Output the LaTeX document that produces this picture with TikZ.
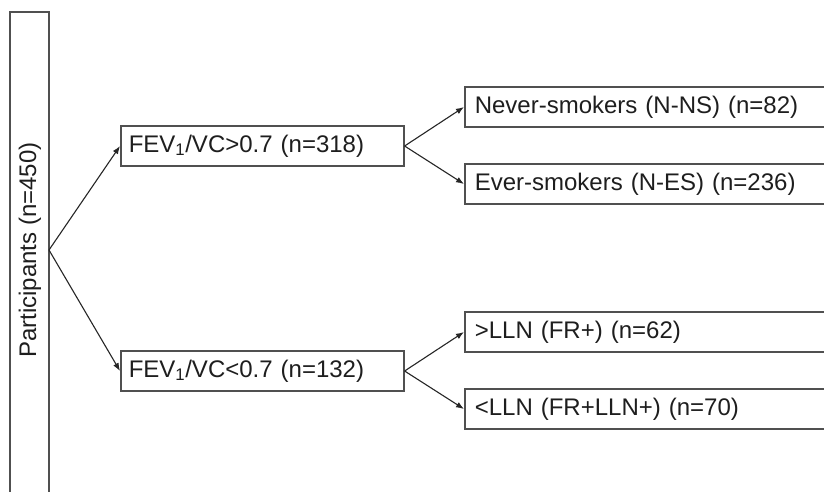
\documentclass[tikz,border=0pt]{standalone}
\usepackage{fontspec}
\setmainfont{Liberation Sans}
\usetikzlibrary{arrows.meta,calc}
\definecolor{boxline}{HTML}{505050}
\definecolor{txt}{HTML}{1E1E1E}
\begin{document}
\begin{tikzpicture}[x=1pt,y=-1pt,
  box/.style={draw=boxline, line width=1.6pt, fill=white, text=txt, inner sep=0pt,
    font=\fontsize{24}{26}\selectfont, minimum height=40pt, anchor=west},
  conn/.style={draw=black!85, line width=1.1pt, -{Latex[length=8pt,width=6pt]}}]
\useasboundingbox (0,0) rectangle (824,491);
\clip (0,0) rectangle (824,491);
\fill[white] (0,0) rectangle (824,491);
% left box
\node[box, anchor=north, minimum width=39pt, minimum height=520pt] (L) at (29.5,11) {};
\node[text=txt, rotate=90, font=\fontsize{24}{26}\selectfont] (Lt) at (30,250) {Participants (n=450)};
\coordinate (apex) at (49,250);
% middle boxes
\node[box, minimum width=283pt, text width=283pt, align=left] (A) at (120,146) {\hspace*{8pt}FEV\textsubscript{1}/VC>0.7 (n=318)};
\node[box, minimum width=283pt, text width=283pt, align=left] (B) at (120,371) {\hspace*{8pt}FEV\textsubscript{1}/VC<0.7 (n=132)};
% right boxes
\node[box, minimum width=400pt, text width=400pt, align=left] (A1) at (464,107) {\hspace*{10pt}Never-smokers (N-NS) (n=82)};
\node[box, minimum width=400pt, text width=400pt, align=left] (A2) at (464,184) {\hspace*{10pt}Ever-smokers (N-ES) (n=236)};
\node[box, minimum width=400pt, text width=400pt, align=left] (B1) at (464,332) {\hspace*{10pt}>LLN (FR+) (n=62)};
\node[box, minimum width=400pt, text width=400pt, align=left] (B2) at (464,409) {\hspace*{10pt}<LLN (FR+LLN+) (n=70)};
% connectors
\draw[conn] (apex) -- (A.west);
\draw[conn] (apex) -- (B.west);
\draw[conn] (A.east) -- (A1.west);
\draw[conn] (A.east) -- (A2.west);
\draw[conn] (B.east) -- (B1.west);
\draw[conn] (B.east) -- (B2.west);
\end{tikzpicture}
\end{document}
